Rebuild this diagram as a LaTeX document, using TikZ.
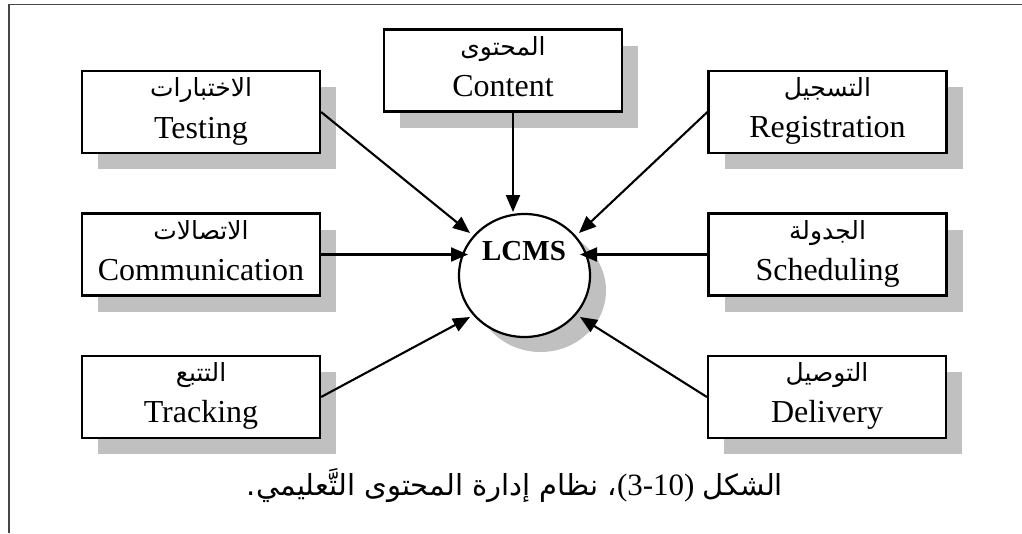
\documentclass[tikz,border=0pt]{standalone}
\usepackage{fontspec}
\setmainfont{Liberation Serif}
\newfontfamily\arabicfont[Script=Arabic]{DejaVu Sans}
\TeXXeTstate=1
\usetikzlibrary{shapes.geometric,arrows.meta,shadows,calc}
\definecolor{shade}{RGB}{192,192,192}
\definecolor{framecol}{RGB}{70,70,70}
\begin{document}
\begin{tikzpicture}[x=1pt,y=-1pt,
  box/.style={draw, fill=white, line width=2.2pt, minimum width=238pt, minimum height=82pt, inner sep=0pt,
    drop shadow={shadow xshift=16pt, shadow yshift=-16pt, fill=shade, opacity=1}},
  ar/.style={anchor=base, inner sep=0pt, font=\arabicfont\fontsize{25}{30}\selectfont},
  en/.style={anchor=base, inner sep=0pt, font=\fontsize{32}{38}\selectfont},
  arr/.style={line width=2.1pt, -{Triangle[length=17pt,width=14pt]}}]
\useasboundingbox (0,0) rectangle (1022,533);
\draw[framecol, line width=1.4pt] (9,533) -- (9,4.5) -- (1022,4.5);

% boxes
\node[box] (testing) at (201,112) {};
\node[box] (content) at (503,70.5) {};
\node[box] (registration) at (827.5,112) {};
\node[box] (communication) at (201,254.5) {};
\node[box] (scheduling) at (827.5,254.5) {};
\node[box] (tracking) at (201,397) {};
\node[box] (delivery) at (827,397) {};

% labels
\node[ar] (testingA) at ([yshift=-27pt]testing.north) {الاختبارات};
\node[en] (testingE) at ([yshift=-69pt]testing.north) {Testing};
\node[ar] (contentA) at ([yshift=-27pt]content.north) {المحتوى};
\node[en] (contentE) at ([yshift=-68pt]content.north) {Content};
\node[ar] (registrationA) at ([yshift=-27pt]registration.north) {التسجيل};
\node[en] (registrationE) at ([yshift=-68pt]registration.north) {Registration};
\node[ar] (communicationA) at ([yshift=-27pt]communication.north) {الاتصالات};
\node[en] (communicationE) at ([yshift=-68pt]communication.north) {Communication};
\node[ar] (schedulingA) at ([yshift=-27pt]scheduling.north) {الجدولة};
\node[en] (schedulingE) at ([yshift=-68pt]scheduling.north) {Scheduling};
\node[ar] (trackingA) at ([yshift=-27pt]tracking.north) {التتبع};
\node[en] (trackingE) at ([yshift=-68pt]tracking.north) {Tracking};
\node[ar] (deliveryA) at ([yshift=-27pt]delivery.north) {التوصيل};
\node[en] (deliveryE) at ([yshift=-68pt]delivery.north) {Delivery};

% centre
\node[ellipse, draw, fill=white, line width=2.2pt, minimum width=131pt, minimum height=123pt, inner sep=0pt,
  drop shadow={shadow xshift=16pt, shadow yshift=-15pt, fill=shade, opacity=1}] (lcms) at (524.5,275.5) {};
\node[anchor=base, inner sep=0pt, font=\bfseries\fontsize{29}{34}\selectfont] (lcmsT) at (524,260) {LCMS};

% arrow tips on the circle
\coordinate (tipT) at ($(lcms.center)+(-54.5,-42.5)$);
\coordinate (tipC) at ($(lcms.center)+(-11.5,-63.5)$);
\coordinate (tipR) at ($(lcms.center)+(54.5,-42.5)$);
\coordinate (tipCo) at ($(lcms.center)+(-56.5,-21)$);
\coordinate (tipS) at ($(lcms.center)+(55.5,-21)$);
\coordinate (tipTr) at ($(lcms.center)+(-54.5,41.5)$);
\coordinate (tipD) at ($(lcms.center)+(55.5,41.5)$);

\draw[arr] (testing.east) -- (tipT);
\draw[arr] ([xshift=10pt]content.south) -- (tipC);
\draw[arr] (registration.west) -- (tipR);
\draw[arr] (communication.east) -- (tipCo);
\draw[arr] (scheduling.west) -- (tipS);
\draw[arr] (tracking.east) -- (tipTr);
\draw[arr] (delivery.west) -- (tipD);

% caption
\node[anchor=base, inner sep=0pt, font=\fontsize{31}{36}\selectfont] (caption) at (515,495)
  {{\arabicfont\fontsize{29}{34}\selectfont .\beginR نظام إدارة المحتوى التَّعليمي\endR\ ،}(3-10) {\arabicfont\fontsize{29}{34}\selectfont الشكل}};
\end{tikzpicture}
\end{document}
